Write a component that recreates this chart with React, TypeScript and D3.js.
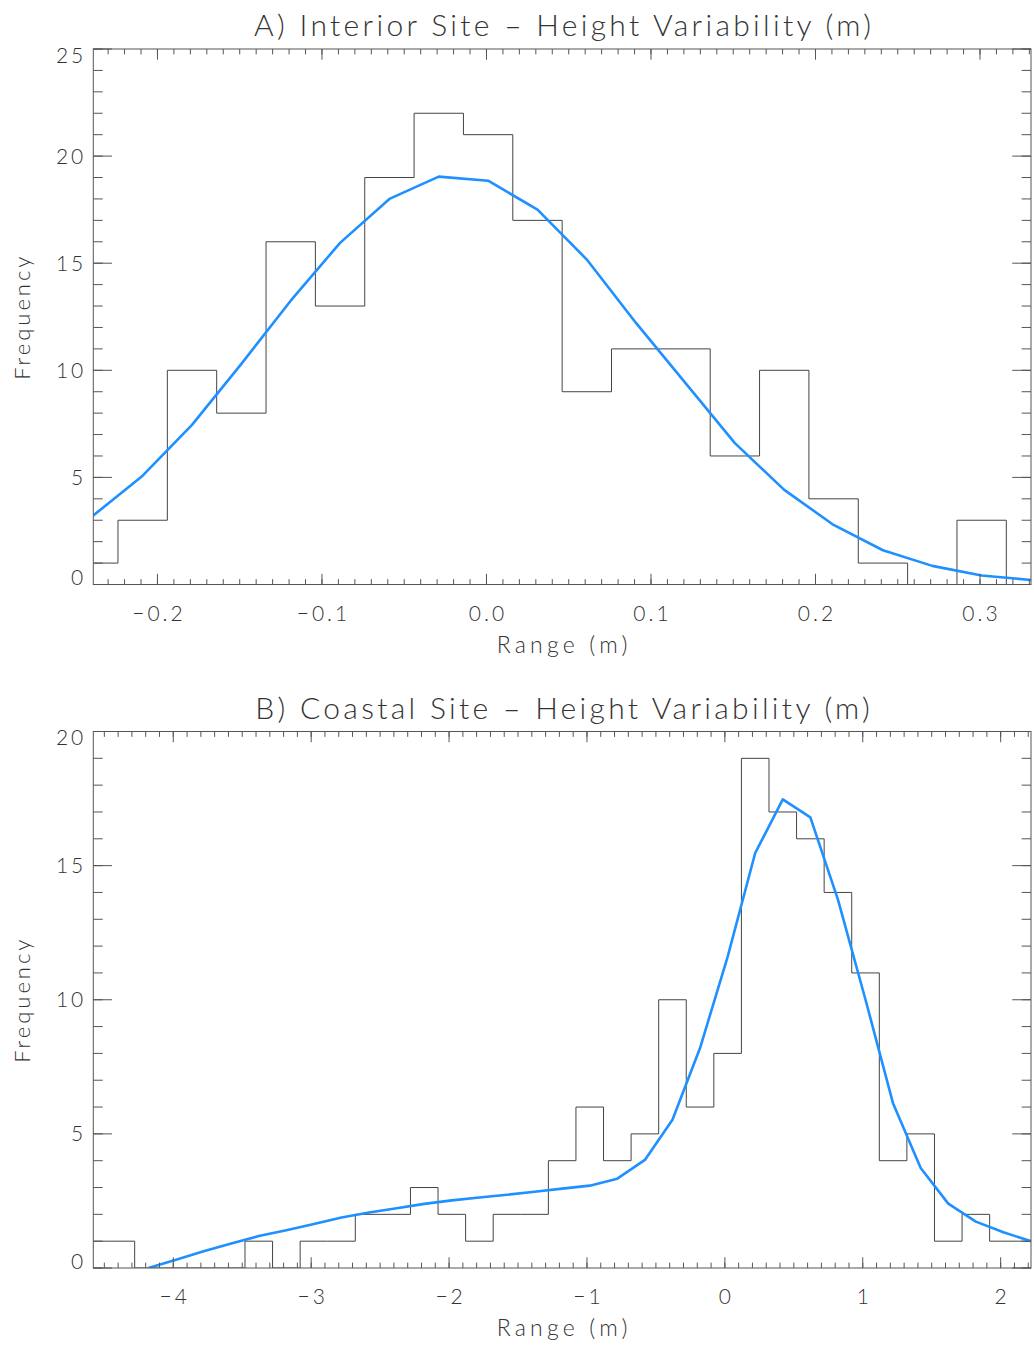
import React from 'react';
import * as d3 from 'd3';

// ---------- Data ----------
const interiorCenters = [-0.239, -0.209, -0.179, -0.149, -0.119, -0.089, -0.059, -0.029, 0.001, 0.031,
  0.061, 0.091, 0.121, 0.151, 0.181, 0.211, 0.241, 0.271, 0.301, 0.331];
const interiorCounts = [1, 3, 10, 8, 16, 13, 19, 22, 21, 17, 9, 11, 11, 6, 10, 4, 1, 0, 3, 0];
const interiorFit = [3.22, 5.08, 7.45, 10.3, 13.25, 15.95, 18.0, 19.04, 18.85, 17.5,
  15.17, 12.2, 9.4, 6.6, 4.42, 2.78, 1.6, 0.87, 0.42, 0.21];

const coastalCenters = [-4.58, -4.38, -4.18, -3.98, -3.78, -3.58, -3.38, -3.18, -2.98, -2.78,
  -2.58, -2.38, -2.18, -1.98, -1.78, -1.58, -1.38, -1.18, -0.98, -0.78,
  -0.58, -0.38, -0.18, 0.02, 0.22, 0.42, 0.62, 0.82, 1.02, 1.22,
  1.42, 1.62, 1.82, 2.02, 2.22];
const coastalCounts = [1, 1, 0, 0, 0, 0, 1, 0, 1, 1, 2, 2, 3, 2, 1, 2, 2, 4, 6, 4,
  5, 10, 6, 8, 19, 17, 16, 14, 11, 4, 5, 1, 2, 1, 1];
const coastalFit: (number | null)[] = [null, null, 0.0, 0.31, 0.62, 0.91, 1.19, 1.41, 1.64, 1.88,
  2.07, 2.23, 2.39, 2.52, 2.63, 2.73, 2.84, 2.96, 3.07, 3.33,
  4.03, 5.53, 8.2, 11.6, 15.47, 17.47, 16.8, 13.73, 10.0, 6.13,
  3.73, 2.4, 1.73, 1.33, 1.0];

const interiorXTicks = [-0.2, -0.1, 0.0, 0.1, 0.2, 0.3];
const interiorXTickLabels = ['\u22120.2', '\u22120.1', '0.0', '0.1', '0.2', '0.3'];
const interiorYTicks = [0, 5, 10, 15, 20, 25];
const interiorYTickLabels = ['0', '5', '10', '15', '20', '25'];

const coastalXTicks = [-4, -3, -2, -1, 0, 1, 2];
const coastalXTickLabels = ['\u22124', '\u22123', '\u22122', '\u22121', '0', '1', '2'];
const coastalYTicks = [0, 5, 10, 15, 20];
const coastalYTickLabels = ['0', '5', '10', '15', '20'];

const titleA = 'A) Interior Site \u2013 Height Variability (m)';
const titleB = 'B) Coastal Site \u2013 Height Variability (m)';
const xTitle = 'Range (m)';
const yTitle = 'Frequency';

// ---------- Styling ----------
const FONT = "Lato, 'DejaVu Sans', sans-serif";
const TEXT_COLOR = '#333';
const AXIS_COLOR = '#555';
const HIST_COLOR = '#444';
const FIT_COLOR = '#1e90ff';
const LEFT = 93.3;
const RIGHT = 1031;

type PanelProps = {
  id: string;
  top: number;
  bottom: number;
  centers: number[];
  counts: number[];
  fit: (number | null)[];
  yMax: number;
  xTicks: number[];
  xTickLabels: string[];
  xMinorStep: number;
  yTicks: number[];
  yTickLabels: string[];
  title: string;
};

function Panel(p: PanelProps) {
  const x = d3.scaleLinear().domain([p.centers[0], p.centers[p.centers.length - 1]]).range([LEFT, RIGHT]);
  const y = d3.scaleLinear().domain([0, p.yMax]).range([p.bottom, p.top]);
  const [x0, x1] = x.domain();
  const h = p.bottom - p.top;
  const w = RIGHT - LEFT;
  const xMajorLen = 0.02 * h;
  const yMajorLen = 0.02 * w;

  const xMinor: number[] = [];
  const kStart = Math.ceil(x0 / p.xMinorStep - 1e-9);
  const kEnd = Math.floor(x1 / p.xMinorStep + 1e-9);
  for (let k = kStart; k <= kEnd; k++) xMinor.push(+(k * p.xMinorStep).toFixed(6));
  const yMinor = d3.range(0, p.yMax + 0.5, 1);

  const histLine = d3.line<number>()
    .x((_, i) => x(p.centers[i]))
    .y((d) => y(d))
    .curve(d3.curveStep);
  const fitLine = d3.line<number | null>()
    .defined((d) => d !== null)
    .x((_, i) => x(p.centers[i]))
    .y((d) => y(d as number));

  const clipId = `clip-${p.id}`;
  const midY = (p.top + p.bottom) / 2;

  return (
    <g>
      <defs>
        <clipPath id={clipId}>
          <rect x={LEFT} y={p.top - 1} width={w} height={h + 1} />
        </clipPath>
      </defs>
      <text x={(LEFT + RIGHT) / 2 + 2} y={p.top - 13} textAnchor="middle" fontSize={30}
        fontFamily={FONT} fontWeight={300} letterSpacing={3.3} fill={TEXT_COLOR}>{p.title}</text>

      <g clipPath={`url(#${clipId})`}>
        <path d={histLine(p.counts) || ''} fill="none" stroke={HIST_COLOR} strokeWidth={1} />
        <path d={fitLine(p.fit) || ''} fill="none" stroke={FIT_COLOR} strokeWidth={2.6} strokeLinejoin="round" />
      </g>

      {/* frame */}
      <rect x={LEFT} y={p.top} width={w} height={h} fill="none" stroke={AXIS_COLOR} strokeWidth={1} />

      {/* x minor ticks */}
      {xMinor.map((v, i) => (
        <g key={`xm${i}`} stroke={AXIS_COLOR} strokeWidth={1}>
          <line x1={x(v)} x2={x(v)} y1={p.bottom} y2={p.bottom - xMajorLen / 2} />
          <line x1={x(v)} x2={x(v)} y1={p.top} y2={p.top + xMajorLen / 2} />
        </g>
      ))}
      {p.xTicks.map((v, i) => (
        <g key={`xM${i}`}>
          <line x1={x(v)} x2={x(v)} y1={p.bottom} y2={p.bottom - xMajorLen} stroke={AXIS_COLOR} strokeWidth={1} />
          <line x1={x(v)} x2={x(v)} y1={p.top} y2={p.top + xMajorLen} stroke={AXIS_COLOR} strokeWidth={1} />
          <text x={x(v) + 1.5} y={p.bottom + 36} textAnchor="middle" fontSize={21} fontFamily={FONT}
            fontWeight={300} letterSpacing={3} fill={TEXT_COLOR}>{p.xTickLabels[i]}</text>
        </g>
      ))}

      {/* y ticks */}
      {yMinor.map((v, i) => (
        <g key={`ym${i}`} stroke={AXIS_COLOR} strokeWidth={1}>
          <line x1={LEFT} x2={LEFT + yMajorLen / 2} y1={y(v)} y2={y(v)} />
          <line x1={RIGHT} x2={RIGHT - yMajorLen / 2} y1={y(v)} y2={y(v)} />
        </g>
      ))}
      {p.yTicks.map((v, i) => {
        const cy = Math.min(Math.max(y(v), p.top + 6), p.bottom - 7);
        return (
          <g key={`yM${i}`}>
            <line x1={LEFT} x2={LEFT + yMajorLen} y1={y(v)} y2={y(v)} stroke={AXIS_COLOR} strokeWidth={1} />
            <line x1={RIGHT} x2={RIGHT - yMajorLen} y1={y(v)} y2={y(v)} stroke={AXIS_COLOR} strokeWidth={1} />
            <text x={LEFT - 7} y={cy + 7.5} textAnchor="end" fontSize={21} fontFamily={FONT}
              fontWeight={300} letterSpacing={3} fill={TEXT_COLOR}>{p.yTickLabels[i]}</text>
          </g>
        );
      })}

      <text x={(LEFT + RIGHT) / 2 + 2} y={p.bottom + 68} textAnchor="middle" fontSize={23} fontFamily={FONT}
        fontWeight={300} letterSpacing={4.2} fill={TEXT_COLOR}>{xTitle}</text>
      <text transform={`translate(30,${midY}) rotate(-90)`} textAnchor="middle" fontSize={22}
        fontFamily={FONT} fontWeight={300} letterSpacing={3} fill={TEXT_COLOR}>{yTitle}</text>
    </g>
  );
}

export default function App() {
  return (
    <svg width={1034} height={1347} viewBox="0 0 1034 1347"
      style={{ position: 'absolute', left: 0, top: 0, background: '#fff' }}>
      <rect x={0} y={0} width={1034} height={1347} fill="#fff" />
      <Panel id="a" top={49} bottom={584.5} centers={interiorCenters} counts={interiorCounts}
        fit={interiorFit} yMax={25} xTicks={interiorXTicks} xTickLabels={interiorXTickLabels}
        xMinorStep={0.01} yTicks={interiorYTicks} yTickLabels={interiorYTickLabels} title={titleA} />
      <Panel id="b" top={731.5} bottom={1268} centers={coastalCenters} counts={coastalCounts}
        fit={coastalFit} yMax={20} xTicks={coastalXTicks} xTickLabels={coastalXTickLabels}
        xMinorStep={0.1} yTicks={coastalYTicks} yTickLabels={coastalYTickLabels} title={titleB} />
    </svg>
  );
}
